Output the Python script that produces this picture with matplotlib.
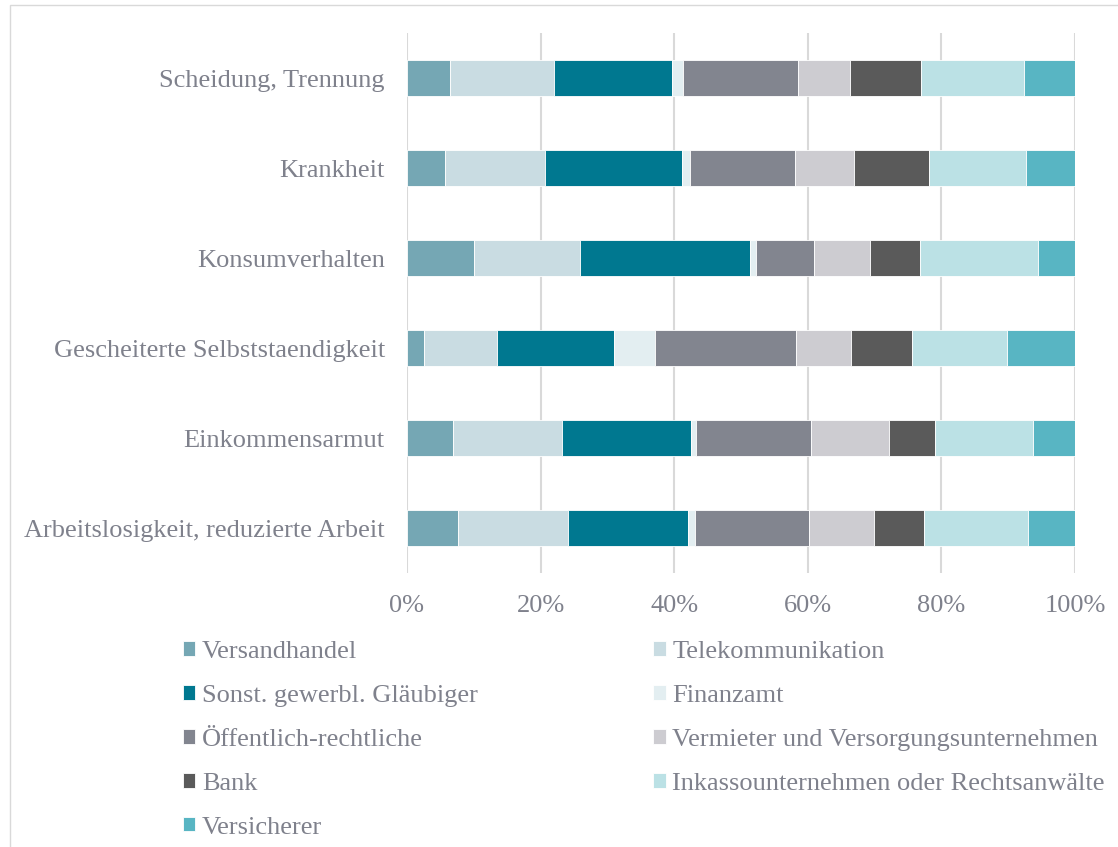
"""
Stacked 100% bar chart: Gläubigerstruktur nach Überschuldungsursache.
"""
import matplotlib
matplotlib.use("Agg")
import matplotlib.pyplot as plt
from matplotlib.patches import Rectangle

# categories, bottom to top as drawn
CAUSES = ["Arbeitslosigkeit, reduzierte Arbeit",
          "Einkommensarmut",
          "Gescheiterte Selbststaendigkeit",
          "Konsumverhalten",
          "Krankheit",
          "Scheidung, Trennung"]

CREDITORS = ["Versandhandel",
             "Telekommunikation",
             "Sonst. gewerbl. Gläubiger",
             "Finanzamt",
             "Öffentlich-rechtliche",
             "Vermieter und Versorgungsunternehmen",
             "Bank",
             "Inkassounternehmen oder Rechtsanwälte",
             "Versicherer"]

# shares in percent, one list per creditor, order follows CAUSES
VERSANDHANDEL = [7.6, 6.9, 2.5, 10.0, 5.7, 6.4]
TELEKOMMUNIKATION = [16.5, 16.3, 11.0, 15.9, 14.9, 15.6]
SONST_GEWERBL = [18.0, 19.3, 17.5, 25.5, 20.5, 17.7]
FINANZAMT = [1.0, 0.8, 6.1, 0.8, 1.3, 1.6]
OEFFENTLICH = [17.1, 17.2, 21.1, 8.7, 15.7, 17.3]
VERMIETER = [9.7, 11.6, 8.2, 8.4, 8.8, 7.7]
BANK = [7.5, 6.9, 9.2, 7.5, 11.2, 10.7]
INKASSO = [15.6, 14.7, 14.2, 17.7, 14.5, 15.3]
VERSICHERER = [7.0, 6.3, 10.2, 5.5, 7.4, 7.7]

SERIES = [VERSANDHANDEL, TELEKOMMUNIKATION, SONST_GEWERBL, FINANZAMT,
          OEFFENTLICH, VERMIETER, BANK, INKASSO, VERSICHERER]

COLORS = ["#75A7B4", "#C9DCE2", "#007890", "#E3EEF1", "#82858F",
          "#CDCCD1", "#5A5A5A", "#BBE1E5", "#58B5C3"]

TEXT_COLOR = "#7F818C"
GRID_COLOR = "#D9D9D9"
FONT_SIZE = 19

plt.rcParams["font.family"] = ["Liberation Serif", "DejaVu Serif"]

fig = plt.figure(figsize=(11.18, 8.47), dpi=100)
ax = fig.add_axes([407 / 1118, 1 - 573 / 847, 668 / 1118, 540 / 847])

positions = list(range(len(CAUSES)))
left = [0.0] * len(CAUSES)
handles = []
for values, color, name in zip(SERIES, COLORS, CREDITORS):
    bars = ax.barh(positions, values, left=left, height=0.4, color=color,
                   edgecolor="white", linewidth=0.6, label=name, zorder=3)
    handles.append(bars)
    left = [l + v for l, v in zip(left, values)]

ax.set_xlim(0, 100)
ax.set_ylim(-0.5, len(CAUSES) - 0.5)
ax.set_xticks([0, 20, 40, 60, 80, 100])
ax.set_xticklabels(["0%", "20%", "40%", "60%", "80%", "100%"])
ax.set_yticks(positions)
ax.set_yticklabels(CAUSES)
ax.tick_params(axis="both", length=0, labelsize=FONT_SIZE, labelcolor=TEXT_COLOR)
ax.tick_params(axis="x", pad=16)
ax.tick_params(axis="y", pad=16)
ax.grid(axis="x", color=GRID_COLOR, linewidth=1.5, zorder=0)
for spine in ax.spines.values():
    spine.set_visible(False)

# legend is filled row by row in the original, matplotlib fills by column
order = [0, 2, 4, 6, 8, 1, 3, 5, 7]
leg = fig.legend([handles[i] for i in order], [CREDITORS[i] for i in order],
                 loc="upper left", bbox_to_anchor=(183 / 1118, 1 - 641 / 847),
                 ncol=2, frameon=False, fontsize=FONT_SIZE, handlelength=0.47,
                 handleheight=0.47, handletextpad=0.25, labelspacing=0.83,
                 columnspacing=6.65, borderaxespad=0, borderpad=0)
for text in leg.get_texts():
    text.set_color(TEXT_COLOR)

fig.patches.append(Rectangle((10 / 1118, -0.05), 1.2, 1 - 5 / 847 + 0.05,
                             transform=fig.transFigure, fill=False,
                             edgecolor=GRID_COLOR, linewidth=1.0))

fig.savefig("out.png", dpi=100)
